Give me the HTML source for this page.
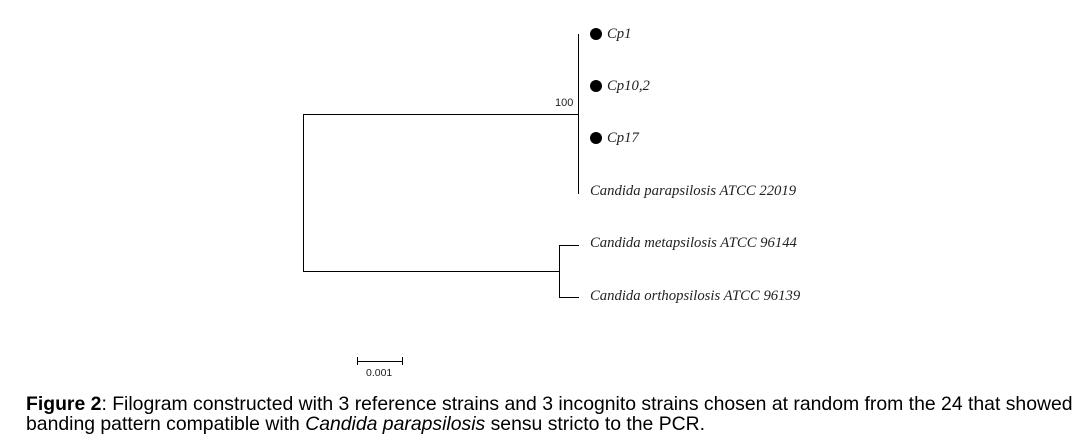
<!DOCTYPE html>
<html><head><style>
body{margin:0;width:1084px;height:445px;background:#fff;position:relative;overflow:hidden;font-family:"Liberation Sans",sans-serif}
.l{position:absolute;background:#000}
.t{position:absolute;font-family:"Liberation Serif",serif;font-style:italic;font-size:14.7px;color:#222;white-space:nowrap;line-height:16px}
.d{position:absolute;width:12px;height:12px;border-radius:50%;background:#000}
.cap{position:absolute;left:26px;font-size:19.4px;color:#000;white-space:nowrap;line-height:20px}
</style></head><body>
<div class="l" style="left:578px;top:34px;width:1px;height:160px"></div>
<div class="l" style="left:303px;top:114px;width:276px;height:1px"></div>
<div class="l" style="left:303px;top:114px;width:1px;height:158px"></div>
<div class="l" style="left:303px;top:271px;width:257px;height:1px"></div>
<div class="l" style="left:559px;top:245px;width:1px;height:53px"></div>
<div class="l" style="left:559px;top:245px;width:20px;height:1px"></div>
<div class="l" style="left:559px;top:297px;width:20px;height:1px"></div>
<div style="position:absolute;left:555px;top:97px;font-size:11px;color:#222">100</div>
<div class="d" style="left:590px;top:28px"></div>
<div class="d" style="left:590px;top:80px"></div>
<div class="d" style="left:590px;top:132px"></div>
<div class="t" style="left:607px;top:26px">Cp1</div>
<div class="t" style="left:607px;top:78px">Cp10,2</div>
<div class="t" style="left:607px;top:130px">Cp17</div>
<div class="t" style="left:590px;top:183px">Candida parapsilosis ATCC 22019</div>
<div class="t" style="left:590px;top:235px">Candida metapsilosis ATCC 96144</div>
<div class="t" style="left:590px;top:288px">Candida orthopsilosis ATCC 96139</div>
<div class="l" style="left:357px;top:361px;width:46px;height:1px"></div>
<div class="l" style="left:357px;top:357px;width:1px;height:8px"></div>
<div class="l" style="left:402px;top:357px;width:1px;height:8px"></div>
<div style="position:absolute;left:366px;top:367px;font-size:10.5px;color:#222">0.001</div>
<div class="cap" style="top:394px"><b>Figure 2</b>: Filogram constructed with 3 reference strains and 3 incognito strains chosen at random from the 24 that showed</div>
<div class="cap" style="top:414px">banding pattern compatible with <i>Candida parapsilosis</i> sensu stricto to the PCR.</div>
</body></html>
